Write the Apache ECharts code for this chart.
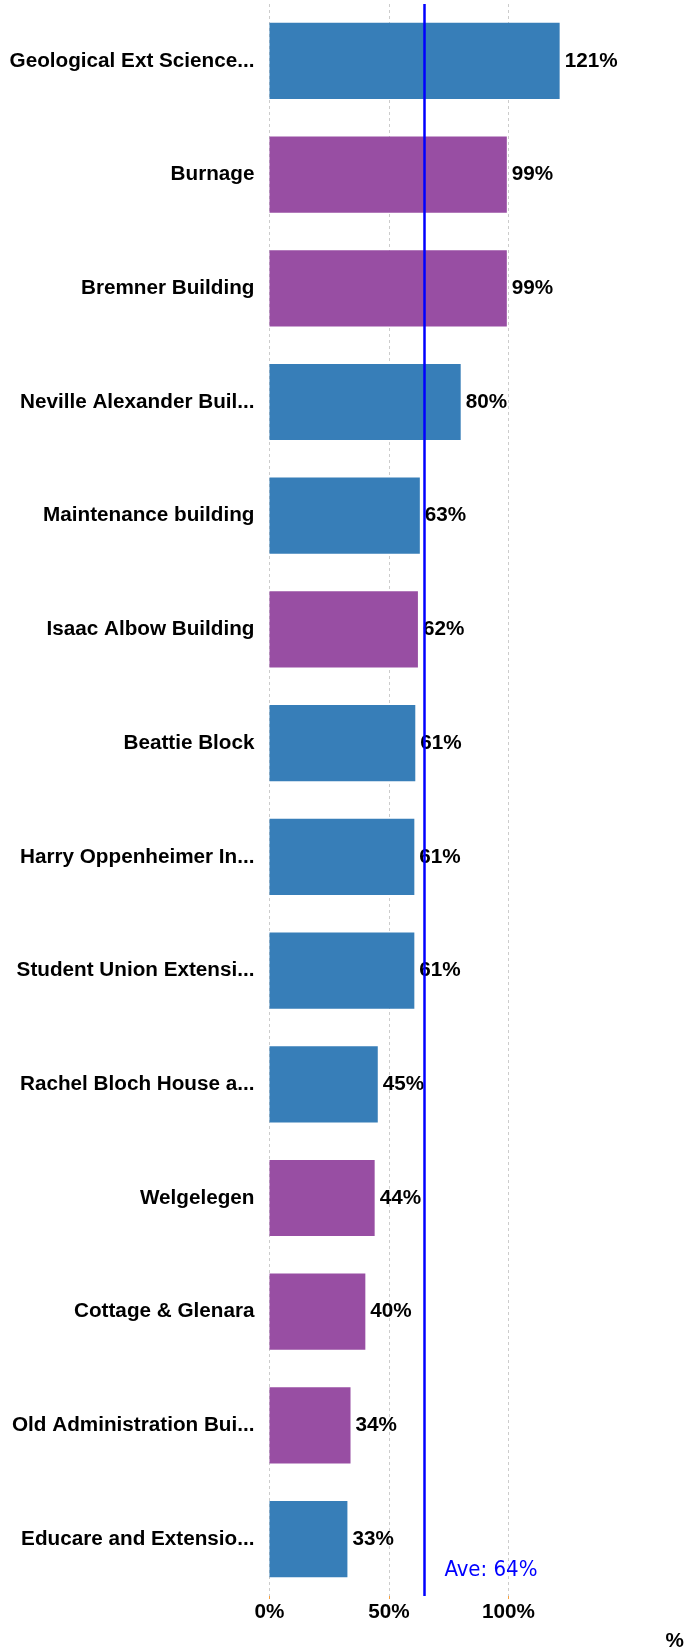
<!DOCTYPE html>
<html>
<head>
<meta charset="utf-8">
<script src="https://cdn.jsdelivr.net/npm/echarts@6/dist/echarts.min.js"></script>
<style>
html,body{margin:0;padding:0;background:#fff;}
#chart{width:687px;height:1652px;}
</style>
</head>
<body>
<div id="chart"></div>
<script>
// ---- data ----
const categories = [
  'Geological Ext Science...',
  'Burnage',
  'Bremner Building',
  'Neville Alexander Buil...',
  'Maintenance building',
  'Isaac Albow Building',
  'Beattie Block',
  'Harry Oppenheimer In...',
  'Student Union Extensi...',
  'Rachel Bloch House a...',
  'Welgelegen',
  'Cottage & Glenara',
  'Old Administration Bui...',
  'Educare and Extensio...'
];
const values = [121.4, 99.3, 99.3, 80.0, 62.9, 62.1, 61.0, 60.6, 60.6, 45.3, 44.0, 40.1, 33.9, 32.6];
const groups = ['A', 'B', 'B', 'A', 'A', 'B', 'A', 'A', 'A', 'A', 'B', 'B', 'B', 'A'];
const averageValue = 64.6;
const averageLabel = 'Ave: 64%';
const xTickValues = [0, 50, 100];
const axisName = '%';

// ---- chart ----
const groupColors = { A: '#377eb8', B: '#984ea3' };
const boldFont = { fontFamily: '"Liberation Sans", Arial, sans-serif', fontWeight: 'bold', fontSize: 20.7, color: '#000' };

const chart = echarts.init(document.getElementById('chart'), null, { renderer: 'canvas' });
chart.setOption({
  animation: false,
  backgroundColor: '#fff',
  grid: { left: 269.5, right: 60, top: 4, bottom: 55, containLabel: false },
  xAxis: {
    type: 'value',
    min: 0,
    max: 149,
    interval: 50,
    name: axisName,
    nameLocation: 'end',
    nameGap: 40,
    nameTextStyle: Object.assign({}, boldFont, { verticalAlign: 'top', padding: [35, 0, 0, 0] }),
    axisLine: { show: false },
    axisTick: { show: true, length: 3, customValues: xTickValues, lineStyle: { color: '#f5a040', width: 1 } },
    axisLabel: Object.assign({}, boldFont, {
      margin: 6,
      customValues: xTickValues,
      formatter: v => v + '%'
    }),
    splitLine: { show: true, showMinLine: true, showMaxLine: true, lineStyle: { color: '#cccccc', type: [3, 3], width: 1 } }
  },
  yAxis: {
    type: 'category',
    data: categories,
    inverse: true,
    axisLine: { show: false },
    axisTick: { show: false },
    axisLabel: Object.assign({}, boldFont, { margin: 15 }),
    splitLine: { show: false }
  },
  series: [{
    type: 'bar',
    data: values.map((v, i) => ({ value: v, itemStyle: { color: groupColors[groups[i]] } })),
    barCategoryGap: '33%',
    label: Object.assign({}, boldFont, {
      show: true,
      position: 'right',
      distance: 5,
      formatter: p => Math.round(p.value) + '%'
    }),
    markLine: {
      silent: true,
      symbol: 'none',
      label: { show: false },
      lineStyle: { color: '#0000ff', width: 2.5, type: 'solid' },
      data: [{ xAxis: averageValue }]
    },
    markPoint: {
      silent: true,
      symbol: 'circle',
      symbolSize: 1,
      itemStyle: { color: 'rgba(0,0,0,0)' },
      label: {
        show: true,
        position: 'right',
        distance: 20,
        offset: [0, 31],
        formatter: averageLabel,
        color: '#0000ff',
        fontSize: 22,
        fontFamily: '"DejaVu Sans Condensed", "Liberation Sans", sans-serif'
      },
      data: [{ coord: [averageValue, categories[categories.length - 1]] }]
    },
    z: 2
  }]
});
</script>
</body>
</html>
